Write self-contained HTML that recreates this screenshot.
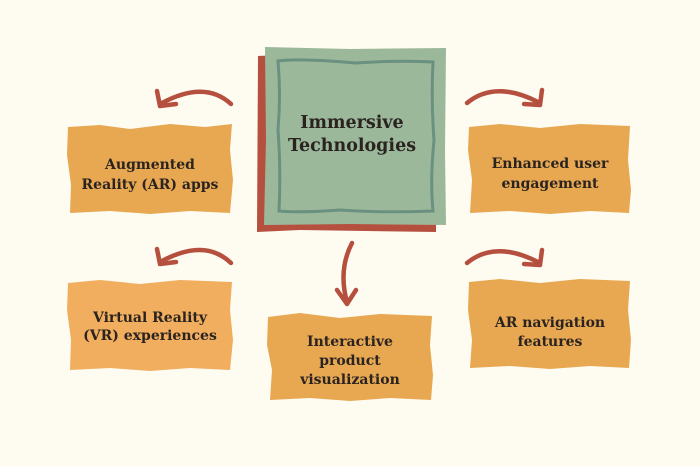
<!DOCTYPE html>
<html><head><style>
body{margin:0;background:#fefbf1;}
svg{display:block}
text{font-family:"DejaVu Serif","Liberation Serif",serif;font-weight:bold;fill:#2a2320;font-size:14px;text-anchor:middle}
</style></head><body>
<svg width="700" height="467" viewBox="0 0 700 467">
<rect width="700" height="467" fill="#fefbf1"/>
<path d="M258,56 L300,54 L437,57 L436,232 L300,230 L257,232 Z" fill="#b5503f"/>
<path d="M265,47 L350,49 L446,48 L445,150 L446,225 L350,224 L264,225 L266,140 Z" fill="#9cb89b"/>
<path d="M278,61 Q300,58 355,63 Q400,60 433,62 Q431,100 434,140 Q430,180 433,211 Q380,213 340,210 Q300,213 279,211 Q281,170 278,130 Q281,95 278,61 Z" fill="none" stroke="#6a9080" stroke-width="3"/>
<text x="352" y="128" style="font-size:17.5px">Immersive</text>
<text x="352" y="151" style="font-size:17.5px">Technologies</text>

<g fill="#e8a852">
<path d="M68,127 L100,125 L130,129 L170,124 L205,127 L232,124 L230,150 L233,180 L230,213 L190,211 L150,214 L110,211 L70,213 L71,185 L67,155 Z"/>
<path d="M469,127 L500,124 L540,128 L580,124 L630,126 L628,160 L631,190 L629,213 L590,211 L550,214 L510,211 L470,213 L472,180 L468,150 Z"/>
<path d="M268,317 L300,313 L340,318 L380,314 L432,316 L430,345 L433,375 L431,400 L390,398 L350,401 L310,398 L270,400 L272,370 L267,345 Z"/>
<path d="M469,282 L500,279 L540,283 L580,279 L630,281 L628,310 L631,340 L629,368 L590,366 L550,369 L510,366 L470,368 L472,340 L468,310 Z"/>
</g>
<path d="M68,283 L100,280 L140,284 L180,280 L232,282 L230,310 L233,340 L230,370 L190,368 L150,371 L110,368 L70,370 L71,340 L67,310 Z" fill="#f0ae5e"/>

<text x="150" y="169">Augmented</text>
<text x="150" y="189">Reality (AR) apps</text>
<text x="550" y="168">Enhanced user</text>
<text x="550" y="188">engagement</text>
<text x="150" y="322">Virtual Reality</text>
<text x="150" y="340">(VR) experiences</text>
<text x="350" y="346">Interactive</text>
<text x="350" y="365">product</text>
<text x="350" y="384">visualization</text>
<text x="550" y="327">AR navigation</text>
<text x="550" y="346">features</text>

<g fill="none" stroke="#b5503f" stroke-width="4.5" stroke-linecap="round" stroke-linejoin="round">
<path d="M231,104 Q205,80 162,103"/><path d="M157,91 L160,106 L176,104"/>
<path d="M231,263 Q205,238 162,261"/><path d="M157,249 L160,264 L176,262"/>
<path d="M467,103 Q495,80 538,102"/><path d="M542,90 L540,105 L524,104"/>
<path d="M467,263 Q495,240 538,262"/><path d="M542,250 L540,265 L524,264"/>
<path d="M352,243 Q338,270 347,302"/><path d="M337,290 L347,304 L356,290"/>
</g>
</svg>
</body></html>
